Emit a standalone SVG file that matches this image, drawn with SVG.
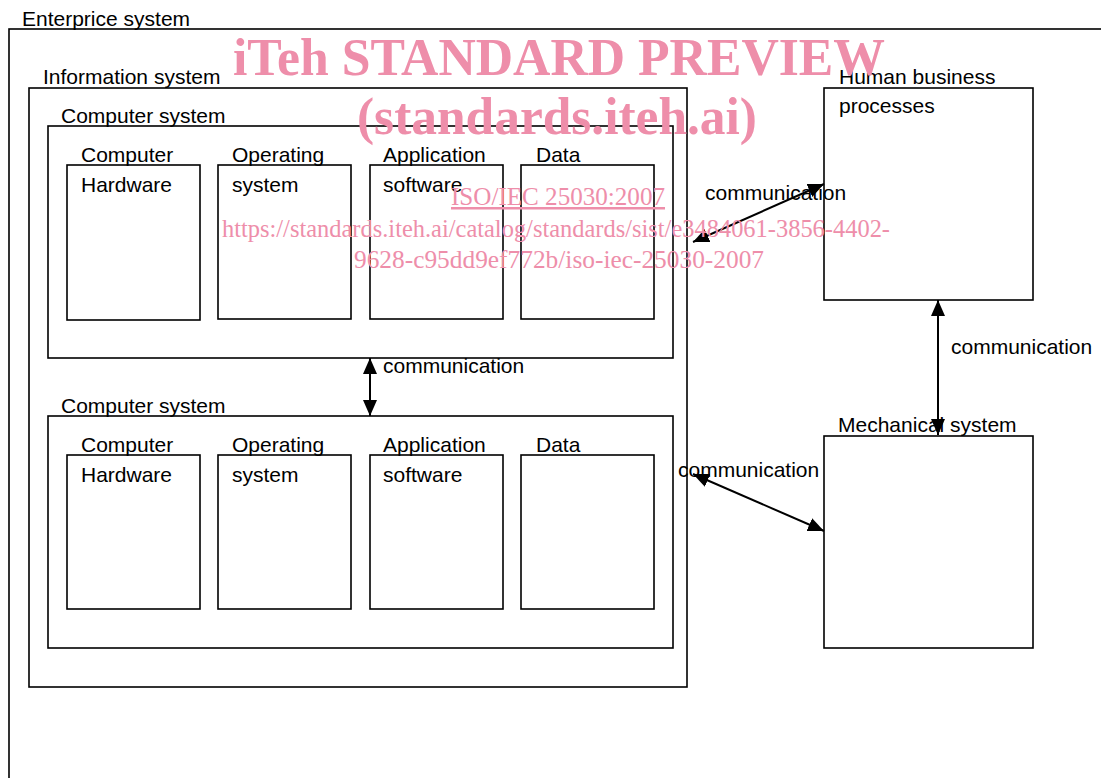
<svg xmlns="http://www.w3.org/2000/svg" width="1101" height="778" viewBox="0 0 1101 778">
<defs>
<style>
.box{fill:none;stroke:#000;stroke-width:1.6}
.lbl{font-family:"Liberation Sans",Arial,sans-serif;font-size:21px;fill:#000}
.conn{stroke:#000;stroke-width:2;fill:none;marker-start:url(#ah);marker-end:url(#ah)}
.wm{font-family:"Liberation Serif","Times New Roman",serif;fill:#ee8eaa}
.wmb{font-weight:bold;font-size:52px}
.wmr{font-size:25px}
</style>
<marker id="ah" viewBox="0 0 16 14" refX="16" refY="7" markerWidth="16" markerHeight="14" markerUnits="userSpaceOnUse" orient="auto-start-reverse">
<path d="M0,0 L16,7 L0,14 z" fill="#000"/>
</marker>
</defs>
<rect width="1101" height="778" fill="#fff"/>

<g id="enterprise-system">
<rect class="box" x="9" y="29" width="1100" height="800"/>
<text class="lbl" x="22" y="26">Enterprice system</text>
</g>

<g id="information-system">
<rect class="box" x="29" y="88" width="658" height="599"/>
<text class="lbl" x="43" y="84">Information system</text>
</g>

<g id="computer-system-1">
<rect class="box" x="48" y="126" width="625" height="232"/>
<text class="lbl" x="61" y="123">Computer system</text>
</g>
<g id="hardware-1">
<rect class="box" x="67" y="165" width="133" height="155"/>
<text class="lbl" x="81" y="162">Computer</text>
<text class="lbl" x="81" y="192">Hardware</text>
</g>
<g id="os-1">
<rect class="box" x="218" y="165" width="133" height="154"/>
<text class="lbl" x="232" y="162">Operating</text>
<text class="lbl" x="232" y="192">system</text>
</g>
<g id="app-1">
<rect class="box" x="370" y="165" width="133" height="154"/>
<text class="lbl" x="383" y="162">Application</text>
<text class="lbl" x="383" y="192">software</text>
</g>
<g id="data-1">
<rect class="box" x="521" y="165" width="133" height="154"/>
<text class="lbl" x="536" y="162">Data</text>
</g>

<g id="computer-system-2">
<rect class="box" x="48" y="416" width="625" height="232"/>
<text class="lbl" x="61" y="413">Computer system</text>
</g>
<g id="hardware-2">
<rect class="box" x="67" y="455" width="133" height="154"/>
<text class="lbl" x="81" y="452">Computer</text>
<text class="lbl" x="81" y="482">Hardware</text>
</g>
<g id="os-2">
<rect class="box" x="218" y="455" width="133" height="154"/>
<text class="lbl" x="232" y="452">Operating</text>
<text class="lbl" x="232" y="482">system</text>
</g>
<g id="app-2">
<rect class="box" x="370" y="455" width="133" height="154"/>
<text class="lbl" x="383" y="452">Application</text>
<text class="lbl" x="383" y="482">software</text>
</g>
<g id="data-2">
<rect class="box" x="521" y="455" width="133" height="154"/>
<text class="lbl" x="536" y="452">Data</text>
</g>

<g id="human-business-processes">
<rect class="box" x="824" y="88" width="209" height="212"/>
<text class="lbl" x="839" y="84">Human business</text>
<text class="lbl" x="839" y="113">processes</text>
</g>

<g id="mechanical-system">
<rect class="box" x="824" y="436" width="209" height="212"/>
<text class="lbl" x="838" y="432">Mechanical system</text>
</g>

<g id="connectors">
<line class="conn" x1="370" y1="358" x2="370" y2="416"/>
<text class="lbl" x="383" y="373">communication</text>
<line class="conn" x1="938" y1="300" x2="938" y2="435"/>
<text class="lbl" x="951" y="354">communication</text>
<line class="conn" x1="824" y1="184" x2="693" y2="242"/>
<text class="lbl" x="705" y="200">communication</text>
<line class="conn" x1="693" y1="474" x2="824" y2="531"/>
<text class="lbl" x="678" y="477">communication</text>
</g>

<g id="watermark" class="wm">
<text class="wmb" x="233" y="75" textLength="652" lengthAdjust="spacingAndGlyphs">iTeh STANDARD PREVIEW</text>
<text class="wmb" x="357" y="134" textLength="400" lengthAdjust="spacingAndGlyphs">(standards.iteh.ai)</text>
<text class="wmr" x="451" y="205" textLength="214" lengthAdjust="spacingAndGlyphs" text-decoration="underline">ISO/IEC 25030:2007</text>
<text class="wmr" x="222" y="237" textLength="668" lengthAdjust="spacingAndGlyphs">https://standards.iteh.ai/catalog/standards/sist/e3484061-3856-4402-</text>
<text class="wmr" x="354" y="268" textLength="410" lengthAdjust="spacingAndGlyphs">9628-c95dd9ef772b/iso-iec-25030-2007</text>
</g>
</svg>
